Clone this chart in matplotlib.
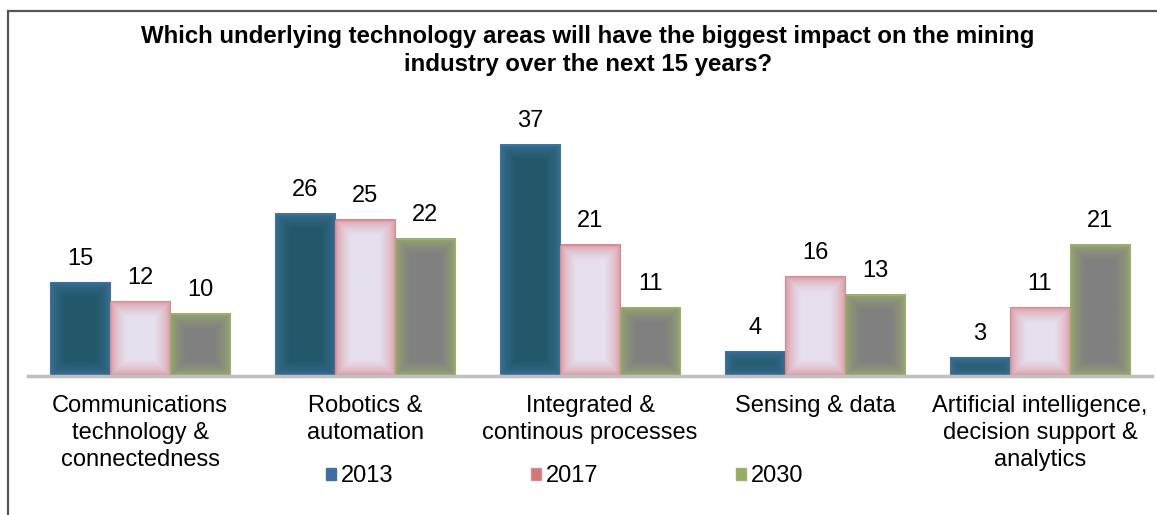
import numpy as np
import matplotlib.pyplot as plt
from matplotlib.colors import to_rgb
from matplotlib.patches import Rectangle, Patch

plt.rcParams['font.family'] = ['Liberation Sans', 'DejaVu Sans']

categories = ["Communications\ntechnology &\nconnectedness", "Robotics &\nautomation",
              "Integrated &\ncontinous processes", "Sensing & data",
              "Artificial intelligence,\ndecision support &\nanalytics"]
years = ["2013", "2017", "2030"]
v2013 = [15, 26, 37, 4, 3]
v2017 = [12, 25, 21, 16, 11]
v2030 = [10, 22, 11, 13, 21]

# (edge colour, centre colour, legend colour)
styles = [("#3f74a0", "#23586a", "#3f6fa0"),
          ("#da8a92", "#e6e0ee", "#d07878"),
          ("#9cb16a", "#808080", "#95ae63")]

FS = 17

fig = plt.figure(figsize=(11.57, 5.15), dpi=100)
ax = fig.add_axes([0.0238, 0.2699, 0.9723, 0.4854])

x = np.arange(len(categories))
w = 0.267


def glow_bar(ax, x0, x1, h, edge, centre):
    # soft inner glow: edge colour at the border, fading to centre colour
    px_w = 60.0
    px_h = max(h * 6.25, 2.0)
    nx, ny = 60, max(int(px_h), 4)
    X, Y = np.meshgrid(np.linspace(0, 1, nx), np.linspace(0, 1, ny))
    dx = np.minimum(X, 1 - X) * px_w
    dy = np.minimum(Y, 1 - Y) * px_h
    d = np.minimum(dx, dy)
    t = np.clip(d / 16.0, 0, 1)
    t = np.sqrt(t)
    e = np.array(to_rgb(edge))
    c = np.array(to_rgb(centre))
    img = e[None, None, :] * (1 - t[..., None]) + c[None, None, :] * t[..., None]
    ax.imshow(img, extent=(x0, x1, 0, h), origin='lower', aspect='auto',
              interpolation='bilinear', zorder=2)
    ax.add_patch(Rectangle((x0, 0), x1 - x0, h, fill=False, edgecolor=edge,
                           lw=0.8, zorder=3))


for i, vals in enumerate([v2013, v2017, v2030]):
    edge, centre, _ = styles[i]
    for j, v in enumerate(vals):
        xc = x[j] + (i - 1) * w
        glow_bar(ax, xc - w / 2, xc + w / 2, v, edge, centre)
        ax.annotate(str(v), (xc, v), xytext=(0, 9), textcoords='offset points',
                    ha='center', va='bottom', fontsize=FS)

ax.set_xlim(-0.5, 4.5)
ax.set_ylim(0, 40)
for s in ['top', 'right', 'left']:
    ax.spines[s].set_visible(False)
ax.spines['bottom'].set_color('#bfbfbf')
ax.spines['bottom'].set_linewidth(2.5)
ax.spines['bottom'].set_zorder(4)
ax.set_yticks([])
ax.set_xticks(x)
ax.set_xticklabels(categories, fontsize=FS, linespacing=1.27)
ax.tick_params(axis='x', length=0, pad=14)

fig.suptitle("Which underlying technology areas will have the biggest impact on the mining\nindustry over the next 15 years?",
             x=0.508, y=0.952, fontsize=17.3, fontweight='bold', linespacing=1.3)

handles = [Patch(facecolor=styles[i][2], edgecolor=styles[i][0]) for i in range(3)]
fig.legend(handles, years, loc='center', bbox_to_anchor=(0.488, 0.075), ncol=3,
           frameon=False, fontsize=FS, handlelength=0.45, handleheight=0.45,
           handletextpad=0.2, columnspacing=5.8)

# outer frame (cropped at right and bottom)
fig.add_artist(Rectangle((8 / 1157, -0.1), 1.2, (515 - 10.5) / 515 + 0.1,
                         transform=fig.transFigure, fill=False,
                         edgecolor='#555555', lw=1.6))

fig.savefig("out.png", dpi=100)
